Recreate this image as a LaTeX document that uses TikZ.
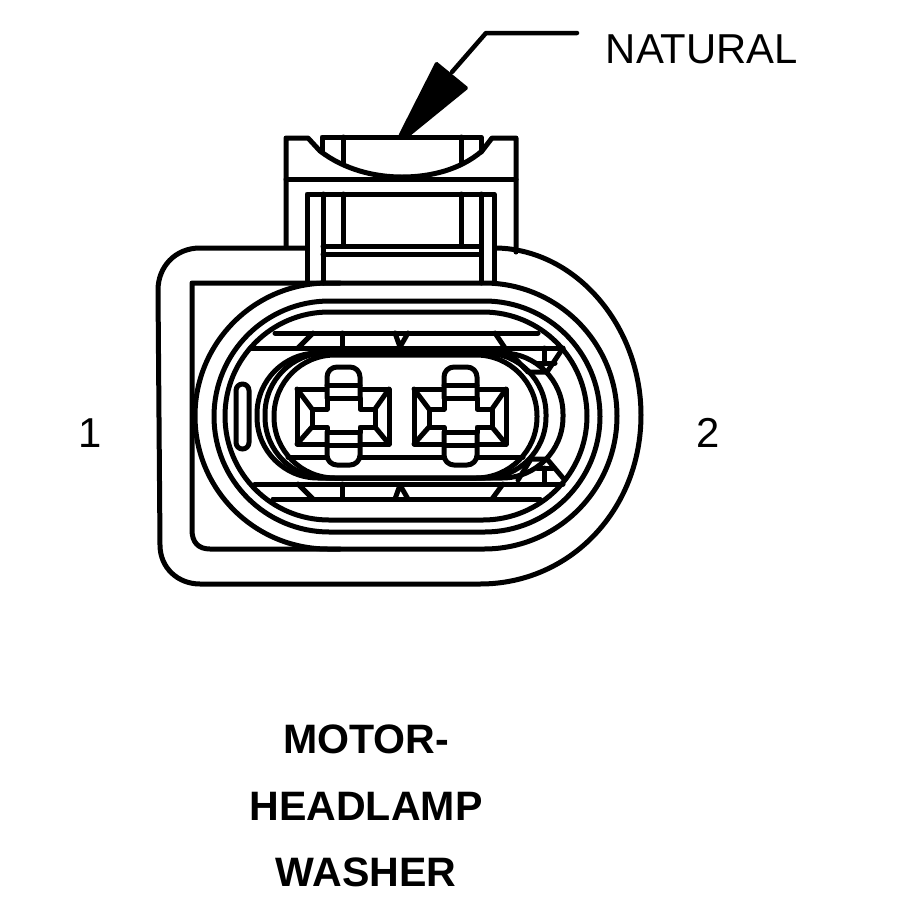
\documentclass[tikz,border=0pt]{standalone}
\usepackage{fontspec}
\setmainfont{Liberation Sans}
\begin{document}
\begin{tikzpicture}[x=0.02cm,y=-0.02cm]
        \tikzstyle{every node}=[inner sep=0pt, font=\fontsize{23.8}{23.8}\selectfont, text=black]
        \tikzstyle{title}=[font=\fontsize{23.4}{23.4}\selectfont\bfseries]
        \tikzstyle{edge}=[black, line width=0.1cm, line join=round, line cap=round]
        \tikzstyle{thin edge}=[black, line width=0.09cm, line join=round, line cap=round]
        \useasboundingbox (0,0) rectangle (900,900);

        % labels
        \node (natural) at (702,49) {NATURAL};
        \node (one) at (90,433) {1};
        \node (two) at (708,433) {2};
        \node[title] (motor) at (366,739) {MOTOR-};
        \node[title] (headlamp) at (366,806) {HEADLAMP};
        \node[title] (washer) at (366,872) {WASHER};

        % leader and arrow
        \coordinate (leadstart) at (577,33);
        \coordinate (leadbend) at (486,33);
        \coordinate (leadend) at (452,72);
        \draw[thin edge] (leadstart) -- (leadbend) -- (leadend);
        \fill[black, rounded corners=1pt] (436,61) -- (469,88) -- (410,136) -- (398,136) -- cycle;

        % top tab
        \draw[edge] (286,247) -- (286,138) -- (308,138) -- (320,151) .. controls (345,170) and (375,177) .. (402,177) .. controls (430,177) and (460,170) .. (482,151) -- (492,138) -- (516,138) -- (516,252);
        \draw[edge] (322,152) -- (322,137) -- (481,137) -- (481,152);
        \draw[edge] (343,137) -- (343,164);
        \draw[edge] (461,137) -- (461,164);
        \draw[edge] (286,179) -- (516,179);

        % latch frame
        \draw[edge] (307,283) -- (307,194) -- (494,194) -- (494,283);
        \draw[edge] (323,194) -- (323,283);
        \draw[edge] (481,194) -- (481,283);
        \draw[edge] (343,194) -- (343,246);
        \draw[edge] (461,194) -- (461,246);
        \draw[edge] (323,246) -- (481,246);
        \draw[edge] (323,254) -- (481,254);

        % body
        \draw[edge] (307,248) -- (200,248) .. controls (175,248) and (158,267) .. (158,290) -- (160,545) .. controls (160,568) and (178,584) .. (200,584) -- (480,584) .. controls (570,584) and (641,510) .. (641,415) .. controls (641,327) and (577,250) .. (497,248);
        \draw[edge] (340,283) -- (192,283) -- (192,530) .. controls (192,542) and (198,549) .. (210,549) -- (340,549);

        % shells
        \draw[edge, rounded corners=2.66cm] (195,283) rectangle (617,549);
        \draw[edge, rounded corners=2.31cm] (214,301) rectangle (600,532);
        \draw[edge, rounded corners=2.08cm] (225,312) rectangle (587,520);

        % ribs
        \draw[edge] (275,333) -- (538,333);
        \draw[edge] (250,348) -- (563,348);
        \draw[edge] (255,484) -- (563,484);
        \draw[edge] (273,499) -- (540,499);
        \draw[edge] (342,333) -- (342,348);
        \draw[edge] (342,484) -- (342,499);
        \draw[edge] (313,333) -- (298,348);
        \draw[edge] (298,484) -- (313,499);
        \draw[edge] (495,333) -- (505,348);
        \draw[edge] (503,484) -- (492,499);
        \draw[edge] (395,333) -- (400,347) -- (408,333);
        \draw[edge] (395,499) -- (400,485) -- (408,499);

        % right side details
        \draw[edge] (544,348) -- (544,364);
        \draw[edge] (537,363) -- (555,363);
        \draw[edge] (563,348) -- (547,372) -- (528,372) -- (510,353);
        \draw[edge] (544,484) -- (544,468);
        \draw[edge] (537,468) -- (553,468);
        \draw[edge] (563,478) -- (547,459) -- (531,459) -- (518,480);

        % slot
        \draw[edge, rounded corners=0.13cm] (236,384) rectangle (249,449);

        % plug
        \draw[edge, rounded corners=1.22cm] (257,353) rectangle (563,478);
        \draw[edge, rounded corners=1.22cm] (265,353) rectangle (546,478);
        \draw[edge, rounded corners=1.22cm] (274,355) rectangle (537,478);
        \draw[edge] (288,457) -- (523,457);

        % pins
        \foreach \px in {0,117}
        {
            \begin{scope}[shift={(\px,0)}]
                \draw[edge, fill=white] (297,389) rectangle (389,444);
                \draw[edge, fill=white, rounded corners=0.2cm] (327,398) -- (327,367) -- (360,367) -- (360,398);
                \draw[edge, fill=white, rounded corners=0.2cm] (327,432) -- (327,465) -- (360,465) -- (360,432);
                \draw[edge] (327,385) -- (360,385);
                \draw[edge] (327,445) -- (360,445);
                \draw[edge] (327,398) -- (360,398) -- (360,409) -- (375,409) -- (375,427) -- (360,427) -- (360,432) -- (327,432) -- (327,427) -- (312,427) -- (312,409) -- (327,409) -- cycle;
                \draw[edge] (297,389) -- (312,409);
                \draw[edge] (389,389) -- (375,409);
                \draw[edge] (297,444) -- (312,427);
                \draw[edge] (389,444) -- (375,427);
            \end{scope}
        }
\end{tikzpicture}
\end{document}
